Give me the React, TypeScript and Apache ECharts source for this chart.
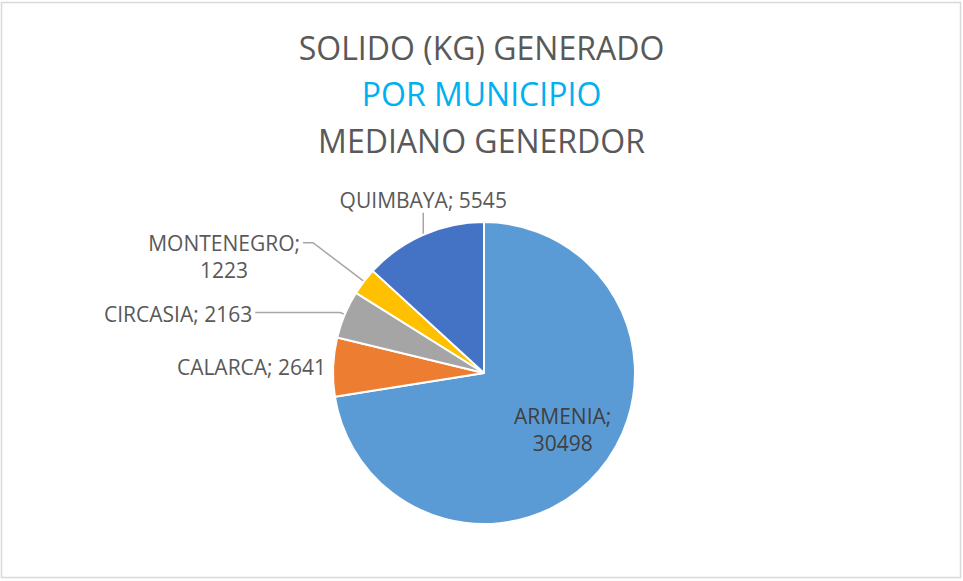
import React, { useEffect, useRef } from "react";
import * as echarts from "echarts";

const categories = ["ARMENIA", "CALARCA", "CIRCASIA", "MONTENEGRO", "QUIMBAYA"];
const values = [30498, 2641, 2163, 1223, 5545];
const colors = ["#5B9BD5", "#ED7D31", "#A5A5A5", "#FFC000", "#4472C4"];
const titleLines = ["SOLIDO (KG) GENERADO", "POR MUNICIPIO", "MEDIANO GENERDOR"];

const FONT = "'Open Sans', 'Noto Sans', sans-serif";

export default function App() {
  const ref = useRef<HTMLDivElement>(null);
  useEffect(() => {
    if (!ref.current) return;
    const chart = echarts.init(ref.current, undefined, { renderer: "svg" });
    chart.setOption({
      animation: false,
      backgroundColor: "#ffffff",
      title: {
        left: "center",
        top: 24,
        padding: 0,
        text: `{a|${titleLines[0]}}\n{b|${titleLines[1]}}\n{a|${titleLines[2]}}`,
        textStyle: {
          fontWeight: "normal",
          rich: {
            a: { fontFamily: FONT, fontSize: 32, fontWeight: "normal", color: "#595959", lineHeight: 46.5 },
            b: { fontFamily: FONT, fontSize: 32, fontWeight: "normal", color: "#00B0F0", lineHeight: 46.5 },
          },
        },
      },
      graphic: [
        {
          type: "rect",
          shape: { x: 1.5, y: 2.5, width: 959, height: 575 },
          style: { fill: "none", stroke: "#D9D9D9", lineWidth: 1.5 },
          silent: true,
        },
      ],
      series: [
        {
          type: "pie",
          center: [484, 373],
          radius: 151,
          startAngle: 90,
          clockwise: true,
          avoidLabelOverlap: false,
          itemStyle: { borderColor: "#ffffff", borderWidth: 2 },
          label: {
            show: true,
            fontFamily: FONT,
            fontSize: 21,
            color: "#595959",
            formatter: "{b}; {c}",
            distanceToLabelLine: 3,
          },
          labelLine: {
            show: true,
            length: 18,
            length2: 14,
            lineStyle: { color: "#A6A6A6", width: 1.5 },
          },
          labelLayout: (p: any) => {
            const pts = p.labelLinePoints;
            if (p.dataIndex === 4 && pts) {
              const e = pts[0];
              return {
                x: e[0],
                y: e[1] - 35,
                align: "center",
                verticalAlign: "middle",
                labelLinePoints: [e, [e[0], e[1] - 22], [e[0], e[1] - 22]],
              };
            }
            if (p.dataIndex === 3) return { dy: 14 };
            if (p.dataIndex === 2) return { dy: 2 };
            if (p.dataIndex === 1) return { dx: -4, dy: 0 };
            return {};
          },
          data: categories.map((name, i) => {
            const d: any = { name, value: values[i], itemStyle: { color: colors[i] } };
            if (i === 0) {
              d.label = {
                position: "inside",
                formatter: "{b};\n{c}",
                lineHeight: 27,
                fontSize: 21,
                color: "#404040",
                offset: [19, 6],
              };
            }
            if (i === 1) {
              d.labelLine = { show: false, length: 0, length2: 0 };
            }
            if (i === 2) {
              d.labelLine = { length: 5, length2: 85 };
            }
            if (i === 3) {
              d.label = {
                formatter: "{n|{b};}\n{n|{c}}",
                rich: {
                  n: {
                    align: "center",
                    fontFamily: FONT,
                    fontSize: 21,
                    color: "#595959",
                    lineHeight: 27,
                  },
                },
              };
              d.labelLine = { length: 64, length2: 10 };
            }
            return d;
          }),
        },
      ],
    });
    return () => chart.dispose();
  }, []);
  return (
    <div
      ref={ref}
      style={{ position: "fixed", left: 0, top: 0, width: 963, height: 581 }}
    />
  );
}
